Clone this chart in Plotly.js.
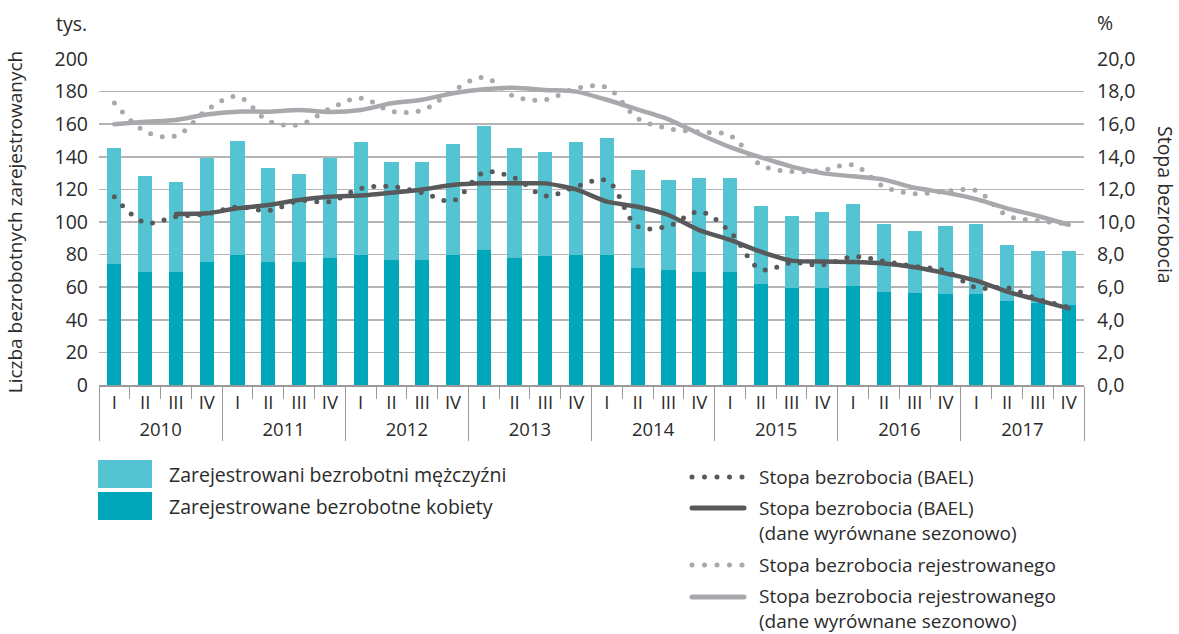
<!DOCTYPE html>
<html><head><meta charset="utf-8">
<script src="https://cdn.plot.ly/plotly-3.0.1.min.js"></script>
<style>
html,body{margin:0;padding:0;background:#fff;}
#chart{width:1179px;height:634px;}
.scatterlayer path.js-line, .shapelayer path {stroke-linecap: round !important;}
</style></head><body><div id="chart"></div>
<script>
const years = ['2010','2011','2012','2013','2014','2015','2016','2017'];
const quarters = ['I','II','III','IV'];

// thousands
const women = [74,69.5,69.5,75.5, 80,75.5,75.5,78, 80,76.5,76.5,80, 83,78,79,80, 80,72,70.5,69.5, 69.5,62,59.5,59.5, 60.5,57,56.5,56, 56,51.5,50.5,49];
const men   = [71.5,58.5,55,63.5, 70,57.5,54,61, 69,60.5,60.5,68, 76,67.5,64,69, 71.5,60,55.5,57.5, 57.5,48,44,46.5, 50.5,42,38,41.5, 43,34.5,31.5,33];

// percent
const baelRate   = [11.55,9.96,10.33,10.5, 10.92,10.7,11.3,11.25, 12.06,12.17,11.8,11.31, 13.03,12.7,11.6,12.17, 12.54,9.73,9.75,10.63, 9.4,7.1,7.5,7.36, 7.87,7.59,7.28,7.0, 5.97,5.97,5.28,4.77];
const baelRateSA = [null,null,10.49,10.53, 10.84,11.04,11.35,11.55, 11.63,11.8,12.0,12.27, 12.37,12.37,12.37,12.0, 11.25,10.94,10.43,9.5, 8.9,8.18,7.63,7.57, 7.55,7.46,7.22,6.85, 6.4,5.73,5.21,4.7];
const regRate    = [17.3,15.56,15.28,16.87, 17.7,16.2,15.97,16.95, 17.6,16.8,16.85,18.05, 18.87,17.7,17.5,18.2, 18.24,16.36,15.73,15.52, 15.3,13.5,13.1,13.17, 13.5,12.17,11.74,11.88, 11.92,10.4,10.08,9.88];
const regRateSA  = [16.0,16.15,16.26,16.6, 16.77,16.77,16.87,16.75, 16.87,17.28,17.5,17.9, 18.14,18.24,18.1,18.0, 17.5,16.9,16.3,15.4, 14.6,13.97,13.4,13.0, 12.8,12.6,12.1,11.8, 11.4,10.84,10.37,9.83];

const legendBars = ['Zarejestrowani bezrobotni mężczyźni','Zarejestrowane bezrobotne kobiety'];
const legendLines = ['Stopa bezrobocia (BAEL)','Stopa bezrobocia (BAEL)<br>(dane wyrównane sezonowo)','Stopa bezrobocia rejestrowanego','Stopa bezrobocia rejestrowanego<br>(dane wyrównane sezonowo)'];

const xYear = [], xQ = [];
years.forEach(y => quarters.forEach(q => { xYear.push(y); xQ.push(q); }));
const X = [xYear, xQ];

const C_LIGHT = '#55c4d2', C_DARK = '#00a7bb', C_GREY_D = '#58595b', C_GREY_L = '#a8a9ad';
const FONT = 'Open Sans, Noto Sans, sans-serif';
const TXT = '#2b2b2b';

const traces = [
  {type:'bar', x:X, y:women, name:legendBars[1], marker:{color:C_DARK}, hoverinfo:'y'},
  {type:'bar', x:X, y:men, name:legendBars[0], marker:{color:C_LIGHT}, hoverinfo:'y'},
  {type:'scatter', mode:'lines', x:X, y:regRateSA, yaxis:'y2', name:legendLines[3], line:{color:C_GREY_L, width:4.5, shape:'spline', smoothing:0.6}},
  {type:'scatter', mode:'lines', x:X, y:regRate, yaxis:'y2', name:legendLines[2], line:{color:C_GREY_L, width:5, dash:'0px,12px', shape:'spline', smoothing:1}},
  {type:'scatter', mode:'lines', x:X, y:baelRateSA, yaxis:'y2', name:legendLines[1], line:{color:C_GREY_D, width:4.5, shape:'spline', smoothing:0.6}, connectgaps:false},
  {type:'scatter', mode:'lines', x:X, y:baelRate, yaxis:'y2', name:legendLines[0], line:{color:C_GREY_D, width:5, dash:'0px,12px', shape:'spline', smoothing:1}}
];

const PL = 99, PR = 1084, PT = 59, PB = 385;
const px = v => (v - PL) / (PR - PL);
const py = v => (PB - v) / (PB - PT);

const shapes = [
  {type:'rect', xref:'paper', yref:'paper', x0:px(98), x1:px(152), y0:py(460), y1:py(488), fillcolor:C_LIGHT, line:{width:0}},
  {type:'rect', xref:'paper', yref:'paper', x0:px(98), x1:px(152), y0:py(492), y1:py(520), fillcolor:C_DARK, line:{width:0}},
  {type:'line', xref:'paper', yref:'paper', x0:px(692), x1:px(744), y0:py(477), y1:py(477), line:{color:C_GREY_D, width:5, dash:'0px,12.5px'}},
  {type:'line', xref:'paper', yref:'paper', x0:px(692), x1:px(744), y0:py(508), y1:py(508), line:{color:C_GREY_D, width:5}},
  {type:'line', xref:'paper', yref:'paper', x0:px(692), x1:px(744), y0:py(565), y1:py(565), line:{color:C_GREY_L, width:5, dash:'0px,12.5px'}},
  {type:'line', xref:'paper', yref:'paper', x0:px(692), x1:px(744), y0:py(597), y1:py(597), line:{color:C_GREY_L, width:5}}
];

const ann = (text, x, y, opts) => Object.assign({text, xref:'paper', yref:'paper', x:px(x), y:py(y), showarrow:false, xanchor:'left', yanchor:'middle', align:'left', borderpad:0, font:{family:FONT, size:19.5, color:TXT}}, opts||{});

const LF = {family:FONT, size:19, color:TXT};
const annotations = [
  ann(legendBars[0], 168, 474),
  ann(legendBars[1], 168, 506),
  ann(legendLines[0], 758, 477, {font:LF}),
  ann(legendLines[1], 758, 520, {font:LF}),
  ann(legendLines[2], 758, 565, {font:LF}),
  ann(legendLines[3], 758, 608.5, {font:LF}),
  ann('tys.', 88, 24, {xanchor:'right'}),
  ann('%', 1096, 23),
  ann('Stopa bezrobocia', 1166, 205, {xanchor:'center', textangle:90})
];

const layout = {
  width:1179, height:634,
  margin:{l:PL, r:1179-PR, t:PT, b:634-PB},
  paper_bgcolor:'#fff', plot_bgcolor:'#fff',
  font:{family:FONT, size:19.5, color:TXT},
  separators:', ',
  barmode:'stack', bargap:0.54,
  showlegend:false,
  xaxis:{type:'multicategory', showline:true, linecolor:'#9a9a9a', linewidth:1.5,
         ticks:'outside', ticklen:12, tickcolor:'#9a9a9a', tickwidth:1,
         showdividers:true, dividercolor:'#9a9a9a', dividerwidth:1,
         showgrid:false, zeroline:false, tickfont:{family:FONT, size:18.5, color:TXT}},
  yaxis:{range:[0,200], dtick:20, showgrid:true, gridcolor:'#b4b4b4', gridwidth:1.5,
         zeroline:false, showline:false, ticks:'', ticklabelstandoff:10,
         tickfont:{family:FONT, size:19.5, color:TXT},
         title:{text:'Liczba bezrobotnych zarejestrowanych', font:{family:FONT, size:19, color:TXT}, standoff:26}},
  yaxis2:{overlaying:'y', side:'right', range:[0,20], dtick:2, tickformat:'.1f',
          showgrid:false, zeroline:false, showline:false, ticks:'', ticklabelstandoff:12,
          tickfont:{family:FONT, size:19.5, color:TXT}},
  shapes, annotations
};

Plotly.newPlot('chart', traces, layout, {staticPlot:true, displayModeBar:false});
</script></body></html>
